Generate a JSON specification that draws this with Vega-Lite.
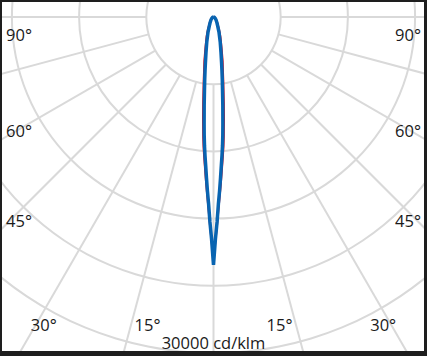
{
  "$schema": "https://vega.github.io/schema/vega-lite/v6.json",
  "width": 422,
  "height": 349,
  "autosize": {"type": "none"},
  "padding": {"left": 2, "top": 2, "right": 3, "bottom": 5},
  "background": "#1e1e1e",
  "config": {"view": {"fill": "white", "stroke": null}},
  "datasets": {
    "circles": [{"r": 6000}, {"r": 12000}, {"r": 18000}, {"r": 24000}, {"r": 30000}],
    "spokes": [{"a": -90}, {"a": -75}, {"a": -60}, {"a": -45}, {"a": -30}, {"a": -15}, {"a": 0}, {"a": 15}, {"a": 30}, {"a": 45}, {"a": 60}, {"a": 75}, {"a": 90}],
    "curves": [
      {"c": "b", "g": -90, "i": 0}, {"c": "b", "g": -80, "i": 45}, {"c": "b", "g": -70, "i": 90}, {"c": "b", "g": -60, "i": 130}, {"c": "b", "g": -50, "i": 220}, {"c": "b", "g": -40, "i": 360}, {"c": "b", "g": -30, "i": 625}, {"c": "b", "g": -25, "i": 890}, {"c": "b", "g": -20, "i": 1430}, {"c": "b", "g": -15, "i": 2320}, {"c": "b", "g": -12, "i": 3210}, {"c": "b", "g": -10, "i": 4150}, {"c": "b", "g": -9, "i": 4820}, {"c": "b", "g": -8, "i": 5630}, {"c": "b", "g": -7, "i": 6610}, {"c": "b", "g": -6, "i": 7950}, {"c": "b", "g": -5, "i": 9600}, {"c": "b", "g": -4.5, "i": 10580}, {"c": "b", "g": -4, "i": 11520}, {"c": "b", "g": -3.5, "i": 12410}, {"c": "b", "g": -3, "i": 13300}, {"c": "b", "g": -2.5, "i": 14380}, {"c": "b", "g": -2, "i": 15540}, {"c": "b", "g": -1.5, "i": 16700}, {"c": "b", "g": -1, "i": 18300}, {"c": "b", "g": -0.5, "i": 19820},
      {"c": "b", "g": 0, "i": 22140},
      {"c": "b", "g": 0.5, "i": 19820}, {"c": "b", "g": 1, "i": 18300}, {"c": "b", "g": 1.5, "i": 16700}, {"c": "b", "g": 2, "i": 15540}, {"c": "b", "g": 2.5, "i": 14380}, {"c": "b", "g": 3, "i": 13300}, {"c": "b", "g": 3.5, "i": 12410}, {"c": "b", "g": 4, "i": 11520}, {"c": "b", "g": 4.5, "i": 10580}, {"c": "b", "g": 5, "i": 9600}, {"c": "b", "g": 6, "i": 7950}, {"c": "b", "g": 7, "i": 6610}, {"c": "b", "g": 8, "i": 5630}, {"c": "b", "g": 9, "i": 4820}, {"c": "b", "g": 10, "i": 4150}, {"c": "b", "g": 12, "i": 3210}, {"c": "b", "g": 15, "i": 2320}, {"c": "b", "g": 20, "i": 1430}, {"c": "b", "g": 25, "i": 890}, {"c": "b", "g": 30, "i": 625}, {"c": "b", "g": 40, "i": 360}, {"c": "b", "g": 50, "i": 220}, {"c": "b", "g": 60, "i": 130}, {"c": "b", "g": 70, "i": 90}, {"c": "b", "g": 80, "i": 45}, {"c": "b", "g": 90, "i": 0},
      {"c": "r", "g": -90, "i": 0}, {"c": "r", "g": -80, "i": 88}, {"c": "r", "g": -70, "i": 124}, {"c": "r", "g": -60, "i": 195}, {"c": "r", "g": -50, "i": 304}, {"c": "r", "g": -40, "i": 487}, {"c": "r", "g": -30, "i": 815}, {"c": "r", "g": -25, "i": 1215}, {"c": "r", "g": -20, "i": 1855}, {"c": "r", "g": -15, "i": 2855}, {"c": "r", "g": -12, "i": 4020}, {"c": "r", "g": -10, "i": 4980}, {"c": "r", "g": -9, "i": 5710}, {"c": "r", "g": -8, "i": 6570}, {"c": "r", "g": -7, "i": 7735}, {"c": "r", "g": -6, "i": 9140}, {"c": "r", "g": -5, "i": 10770}, {"c": "r", "g": -4.5, "i": 11590}, {"c": "r", "g": -4, "i": 12375}, {"c": "r", "g": -3.5, "i": 13160}, {"c": "r", "g": -3, "i": 14080}, {"c": "r", "g": -2.5, "i": 15075}, {"c": "r", "g": -2, "i": 16100}, {"c": "r", "g": -1.5, "i": 17280}, {"c": "r", "g": -1, "i": 18665}, {"c": "r", "g": -0.5, "i": 20100},
      {"c": "r", "g": 0, "i": 22140},
      {"c": "r", "g": 0.5, "i": 20100}, {"c": "r", "g": 1, "i": 18665}, {"c": "r", "g": 1.5, "i": 17280}, {"c": "r", "g": 2, "i": 16100}, {"c": "r", "g": 2.5, "i": 15075}, {"c": "r", "g": 3, "i": 14080}, {"c": "r", "g": 3.5, "i": 13160}, {"c": "r", "g": 4, "i": 12375}, {"c": "r", "g": 4.5, "i": 11590}, {"c": "r", "g": 5, "i": 10770}, {"c": "r", "g": 6, "i": 9140}, {"c": "r", "g": 7, "i": 7735}, {"c": "r", "g": 8, "i": 6570}, {"c": "r", "g": 9, "i": 5710}, {"c": "r", "g": 10, "i": 4980}, {"c": "r", "g": 12, "i": 4020}, {"c": "r", "g": 15, "i": 2855}, {"c": "r", "g": 20, "i": 1855}, {"c": "r", "g": 25, "i": 1215}, {"c": "r", "g": 30, "i": 815}, {"c": "r", "g": 40, "i": 487}, {"c": "r", "g": 50, "i": 304}, {"c": "r", "g": 60, "i": 195}, {"c": "r", "g": 70, "i": 124}, {"c": "r", "g": 80, "i": 88}, {"c": "r", "g": 90, "i": 0}
    ],
    "labels": [
      {"t": "90°", "x": -17366, "y": -2116}, {"t": "90°", "x": 17366, "y": -2116},
      {"t": "60°", "x": -17366, "y": -10670}, {"t": "60°", "x": 17366, "y": -10670},
      {"t": "45°", "x": -17366, "y": -18723}, {"t": "45°", "x": 17366, "y": -18723},
      {"t": "30°", "x": -15152, "y": -28009}, {"t": "30°", "x": 15152, "y": -28009},
      {"t": "15°", "x": -5893, "y": -28009}, {"t": "15°", "x": 5893, "y": -28009},
      {"t": "30000 cd/klm", "x": 0, "y": -29670}
    ]
  },
  "layer": [
    {
      "data": {"name": "circles"},
      "transform": [
        {"calculate": "datum.r + 90", "as": "ro"},
        {"calculate": "datum.r - 90", "as": "ri"}
      ],
      "mark": {"type": "arc", "color": "#d9d9d9", "theta": 0, "theta2": 6.2832, "clip": true},
      "encoding": {
        "x": {"datum": 0, "type": "quantitative", "scale": {"domain": [-18884, 18795], "nice": false, "zero": false}, "axis": null},
        "y": {"datum": 0, "type": "quantitative", "scale": {"domain": [-29821, 1339], "nice": false, "zero": false}, "axis": null},
        "radius": {"field": "ro", "type": "quantitative", "scale": {"type": "linear", "domain": [0, 30000], "range": [0, 336], "zero": true}, "legend": null},
        "radius2": {"field": "ri"}
      }
    },
    {
      "data": {"name": "spokes"},
      "transform": [
        {"calculate": "6000 * sin(datum.a * PI / 180)", "as": "x"},
        {"calculate": "-6000 * cos(datum.a * PI / 180)", "as": "y"},
        {"calculate": "40000 * sin(datum.a * PI / 180)", "as": "x2"},
        {"calculate": "-40000 * cos(datum.a * PI / 180)", "as": "y2"}
      ],
      "mark": {"type": "rule", "color": "#d9d9d9", "strokeWidth": 2, "clip": true},
      "encoding": {
        "x": {"field": "x", "type": "quantitative", "scale": {"domain": [-18884, 18795], "nice": false, "zero": false}, "axis": null},
        "y": {"field": "y", "type": "quantitative", "scale": {"domain": [-29821, 1339], "nice": false, "zero": false}, "axis": null},
        "x2": {"field": "x2"},
        "y2": {"field": "y2"}
      }
    },
    {
      "data": {"name": "curves"},
      "transform": [
        {"filter": "datum.c === 'r'"},
        {"calculate": "datum.i * sin(datum.g * PI / 180)", "as": "x"},
        {"calculate": "-datum.i * cos(datum.g * PI / 180)", "as": "y"}
      ],
      "mark": {"type": "line", "color": "#e30613", "strokeWidth": 1.6, "clip": true},
      "encoding": {
        "x": {"field": "x", "type": "quantitative", "scale": {"domain": [-18884, 18795], "nice": false, "zero": false}, "axis": null},
        "y": {"field": "y", "type": "quantitative", "scale": {"domain": [-29821, 1339], "nice": false, "zero": false}, "axis": null},
        "order": {"field": "g", "type": "quantitative"}
      }
    },
    {
      "data": {"name": "curves"},
      "transform": [
        {"filter": "datum.c === 'b'"},
        {"calculate": "datum.i * sin(datum.g * PI / 180)", "as": "x"},
        {"calculate": "-datum.i * cos(datum.g * PI / 180)", "as": "y"}
      ],
      "mark": {"type": "line", "color": "#0864b1", "strokeWidth": 3.5, "clip": true},
      "encoding": {
        "x": {"field": "x", "type": "quantitative", "scale": {"domain": [-18884, 18795], "nice": false, "zero": false}, "axis": null},
        "y": {"field": "y", "type": "quantitative", "scale": {"domain": [-29821, 1339], "nice": false, "zero": false}, "axis": null},
        "order": {"field": "g", "type": "quantitative"}
      }
    },
    {
      "data": {"name": "labels"},
      "mark": {"type": "text", "font": "Open Sans", "fontSize": 16.5, "color": "#1a1a1a", "align": "center", "baseline": "alphabetic"},
      "encoding": {
        "x": {"field": "x", "type": "quantitative", "scale": {"domain": [-18884, 18795], "nice": false, "zero": false}, "axis": null},
        "y": {"field": "y", "type": "quantitative", "scale": {"domain": [-29821, 1339], "nice": false, "zero": false}, "axis": null},
        "text": {"field": "t", "type": "nominal"}
      }
    }
  ]
}
